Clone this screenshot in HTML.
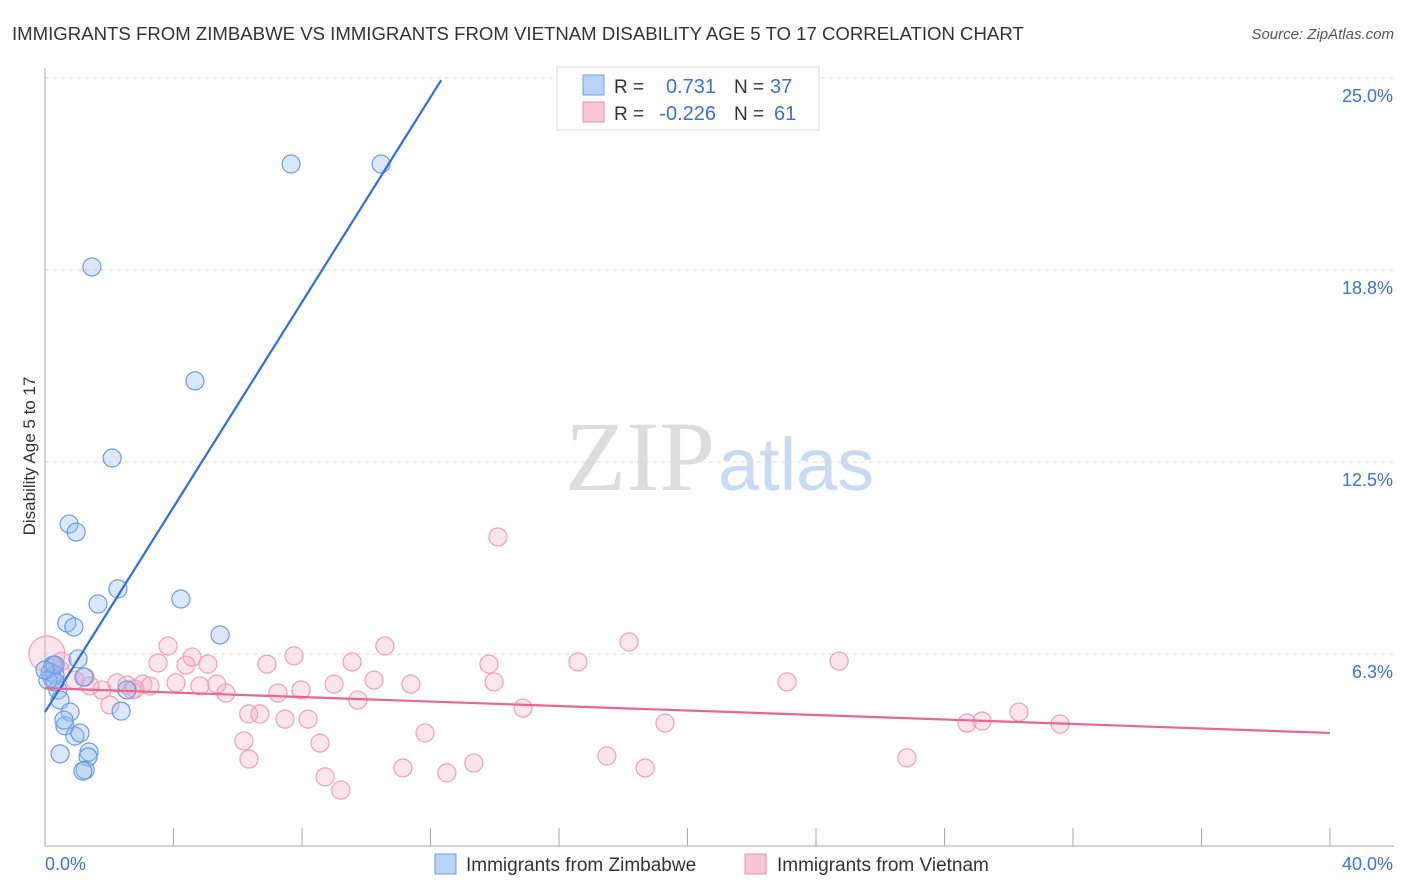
<!DOCTYPE html>
<html><head><meta charset="utf-8"><style>
body{margin:0;background:#fff;font-family:"Liberation Sans",sans-serif;}
svg{display:block}
</style></head><body>
<svg id="c" width="1406" height="892">
<text x="12" y="40" font-size="18.6" fill="#333">IMMIGRANTS FROM ZIMBABWE VS IMMIGRANTS FROM VIETNAM DISABILITY AGE 5 TO 17 CORRELATION CHART</text>
<text x="1394" y="39" font-size="15" fill="#555" font-style="italic" text-anchor="end">Source: ZipAtlas.com</text>
<text x="35" y="456" font-size="17" fill="#333" text-anchor="middle" transform="rotate(-90 35 456)">Disability Age 5 to 17</text>
<text x="715" y="490" font-size="100" fill="#ddd" text-anchor="end" font-family="Liberation Serif">ZIP</text>
<text x="718" y="490" font-size="74" fill="#c9daf3">atlas</text>
<g id="grid"></g><g id="pts"></g><g id="lines"></g>
<g>
<rect x="557" y="67" width="262" height="63" fill="#fff" stroke="#ddd"/>
<rect x="583" y="75" width="21" height="20" fill="#b8d3f5" stroke="#6fa0e0"/>
<rect x="583" y="102" width="21" height="20" fill="#f8c6d5" stroke="#eb8fae"/>
<text x="614" y="93" font-size="19" fill="#333">R =</text><text x="716" y="93" font-size="20" fill="#3a73d1" text-anchor="end">0.731</text>
<text x="734" y="93" font-size="19" fill="#333">N =</text><text x="770" y="93" font-size="20" fill="#3a73d1">37</text>
<text x="614" y="120" font-size="19" fill="#333">R =</text><text x="716" y="120" font-size="20" fill="#3a73d1" text-anchor="end">-0.226</text>
<text x="734" y="120" font-size="19" fill="#333">N =</text><text x="774" y="120" font-size="20" fill="#3a73d1">61</text>
</g>
<g>
<rect x="435" y="854" width="21" height="20" fill="#b8d3f5" stroke="#6fa0e0"/>
<text x="466" y="871" font-size="19" fill="#333">Immigrants from Zimbabwe</text>
<rect x="745" y="854" width="21" height="20" fill="#f8c6d5" stroke="#eb8fae"/>
<text x="777" y="871" font-size="19" fill="#333">Immigrants from Vietnam</text>
</g>
</svg>
<script>
const yTicks=[6.25,12.5,18.75,25];
const yTickLabels=["6.3%","12.5%","18.8%","25.0%"];
const xTicks=[0,4,8,12,16,20,24,28,32,36,40];
const zimX=[7.66,10.46,1.46,4.67,2.09,0.75,0.97,2.27,1.65,4.23,0.68,0.90,5.45,1.03,0.25,0.16,0.22,0.31,1.21,0.40,2.55,0.47,0.78,0.62,2.37,0.93,1.09,1.37,1.34,0.47,1.25,1.18,0.31,0.09,0.31,0.0,0.59];
const zimY=[22.2,22.2,18.85,15.14,12.63,10.48,10.22,8.37,7.88,8.04,7.26,7.13,6.87,6.09,5.89,5.66,5.47,5.57,5.50,5.08,5.08,4.75,4.36,3.91,4.39,3.58,3.68,3.06,2.90,3.00,2.47,2.44,5.89,5.40,5.34,5.73,4.10];
const vnX=[0.06,3.83,3.52,4.39,4.58,5.07,5.35,5.63,6.34,6.19,6.35,6.69,6.91,7.25,7.47,7.75,7.97,8.19,8.56,8.72,9.0,9.21,9.56,9.74,10.24,10.58,11.14,11.39,11.83,12.51,13.35,13.98,13.82,14.1,14.88,16.59,17.49,18.18,18.68,19.3,23.1,24.72,26.83,28.7,29.17,30.32,31.6,0.25,0.47,0.93,1.4,1.77,2.02,2.24,2.55,2.71,3.05,3.27,0.53,1.25,2.8,4.08,4.82];
const vnY=[6.25,6.51,5.96,5.89,6.15,5.92,5.27,4.98,4.30,3.42,2.83,4.30,5.92,4.98,4.13,6.19,5.08,4.13,3.35,2.25,5.27,1.82,5.99,4.75,5.40,6.51,2.54,5.27,3.68,2.38,2.70,5.34,5.92,10.06,4.49,5.99,2.93,6.64,2.54,4.0,5.34,6.02,2.87,4.0,4.07,4.36,3.97,5.80,5.73,5.40,5.21,5.08,4.59,5.31,5.24,5.08,5.27,5.21,6.02,5.50,5.11,5.31,5.21];
const zimLine=[4.36,1.668];
const vnLine=[5.14,-0.0365];
const X=v=>45+v*32.125, Y=v=>846-v*30.72;
const NS="http://www.w3.org/2000/svg";
function mk(t,a,p){const e=document.createElementNS(NS,t);for(const k in a)e.setAttribute(k,a[k]);p.appendChild(e);return e;}
const g=document.getElementById('grid');
yTicks.forEach((v,i)=>{
 const l=mk('line',{x1:45,x2:1394,y1:Y(v),y2:Y(v),stroke:'#ddd','stroke-dasharray':'4 4'},g);
 
 
 const t=mk('text',{x:1393,y:Y(v)+24,'font-size':18,fill:'#3a73d1','text-anchor':'end'},g);
 t.textContent=yTickLabels[i];
 
 
});
mk('line',{x1:45,x2:45,y1:68,y2:846,stroke:'#aaa'},g);
mk('line',{x1:45,x2:1394,y1:846,y2:846,stroke:'#aaa'},g);
xTicks.forEach(v=>{const l=mk('line',{x1:X(v),x2:X(v),y1:828,y2:846,stroke:'#aaa'},g);
 
 });
let t=mk('text',{x:45,y:870,'font-size':18,fill:'#3a73d1'},g);t.textContent='0.0%';


t=mk('text',{x:1393,y:870,'font-size':18,fill:'#3a73d1','text-anchor':'end'},g);t.textContent='40.0%';


const p=document.getElementById('pts');
vnX.forEach((x,i)=>{const c=mk('circle',{cx:X(x),cy:Y(vnY[i]),r:i==0?18:9,fill:'rgba(246,170,195,0.3)',stroke:'#eea0b9','stroke-width':1.2},p);
 
 });
zimX.forEach((x,i)=>{const c=mk('circle',{cx:X(x),cy:Y(zimY[i]),r:9,fill:'rgba(150,190,240,0.35)',stroke:'#6a9de0','stroke-width':1.2},p);
 
 });
const L=document.getElementById('lines');
const x2=(24.93-zimLine[0])/zimLine[1];
let ln=mk('line',{x1:X(0),y1:Y(zimLine[0]),x2:X(x2),y2:Y(zimLine[0]+zimLine[1]*x2),stroke:'#2f6fd6','stroke-width':2.2},L);


ln=mk('line',{x1:X(0),y1:Y(vnLine[0]),x2:X(40),y2:Y(vnLine[0]+vnLine[1]*40),stroke:'#e8668f','stroke-width':2.2},L);


</script>
</body></html>
